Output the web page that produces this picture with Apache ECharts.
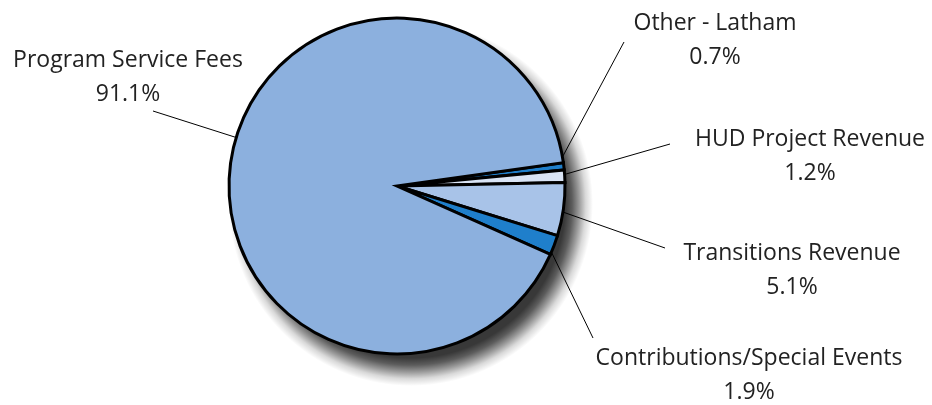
<!DOCTYPE html>
<html>
<head>
<meta charset="utf-8">
<script src="https://cdn.jsdelivr.net/npm/echarts@6/dist/echarts.min.js"></script>
<style>
html,body{margin:0;padding:0;background:#fff;}
#chart{width:932px;height:405px;}
</style>
</head>
<body>
<div id="chart"></div>
<script>
// Data
const categories = ['Other - Latham', 'HUD Project Revenue', 'Transitions Revenue', 'Contributions/Special Events', 'Program Service Fees'];
const values = [0.7, 1.2, 5.1, 1.9, 91.1];

// Styles / annotation positions (not data)
const colors = ['#1F7FCB', '#D9E4F5', '#A8C3E8', '#1F7FCB', '#8CB0DE'];
const labelPos = [[715, 40], [810, 156], [792, 270], [749, 375], [128, 77]];
const lineEnd = [[624, 42], [670, 144], [665, 248], [593, 338], [153, 111]];
const lineStart = [[6.8, 0.96], [3.3, 0.95], [-8, 0.92], [-20.5, 0.95], [163.6, 0.70]]; // [angle deg, radius fraction]
const C = [397, 186], R = 168;

const chart = echarts.init(document.getElementById('chart'));
const dataItems = categories.map((c, i) => ({
  name: c, value: values[i], itemStyle: { color: colors[i] }
}));

const shadowGrad = new echarts.graphic.RadialGradient(0.5, 0.5, 0.5, [
  { offset: 0, color: 'rgba(0,0,0,0.8)' },
  { offset: 0.846, color: 'rgba(0,0,0,0.78)' },
  { offset: 0.885, color: 'rgba(0,0,0,0.64)' },
  { offset: 0.923, color: 'rgba(0,0,0,0.4)' },
  { offset: 0.96, color: 'rgba(0,0,0,0.15)' },
  { offset: 1, color: 'rgba(0,0,0,0)' }
]);

chart.setOption({
  animation: false,
  backgroundColor: '#ffffff',
  series: [
    {
      type: 'pie',
      silent: true,
      z: 1,
      center: [C[0] + 14, C[1] + 18],
      radius: [0, 182],
      label: { show: false },
      labelLine: { show: false },
      emphasis: { disabled: true },
      data: [{ value: 1, itemStyle: { color: shadowGrad } }]
    },
    {
      type: 'pie',
      z: 2,
      center: C,
      radius: [0, R],
      startAngle: 8,
      clockwise: true,
      avoidLabelOverlap: false,
      emphasis: { scale: false },
      data: dataItems,
      itemStyle: { borderColor: '#000', borderWidth: 3, borderJoin: 'miter' },
      label: {
        show: true,
        formatter: p => p.name + '\n' + p.value.toFixed(1) + '%',
        fontFamily: 'Open Sans',
        fontSize: 23,
        lineHeight: 34,
        color: '#222',
        align: 'center'
      },
      labelLine: {
        show: true,
        showAbove: true,
        length: 1,
        length2: 0,
        lineStyle: { color: '#000', width: 1 }
      },
      labelLayout: function (params) {
        const i = params.dataIndex;
        const p = labelPos[i];
        const a = lineStart[i][0] * Math.PI / 180, r = R * lineStart[i][1];
        const s = [C[0] + r * Math.cos(a), C[1] - r * Math.sin(a)];
        return {
          x: p[0], y: p[1], align: 'center', verticalAlign: 'middle',
          labelLinePoints: [s, lineEnd[i]]
        };
      }
    }
  ]
});
</script>
</body>
</html>
